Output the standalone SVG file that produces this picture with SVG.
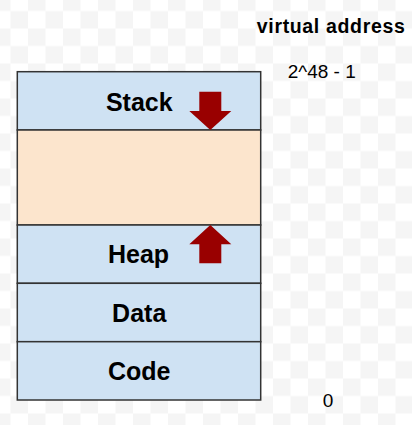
<svg xmlns="http://www.w3.org/2000/svg" width="412" height="425" viewBox="0 0 412 425">
<style>
.seg{stroke:#333333;stroke-width:1.5}
.blue{fill:#cfe2f3}
.orange{fill:#fce5cd}
.lbl{font-family:"Liberation Sans",Arial,sans-serif;font-weight:bold;font-size:25px;fill:#000;text-anchor:middle}
.addr{font-family:"Liberation Sans",Arial,sans-serif;font-size:19px;fill:#000;text-anchor:middle}
.arrow{fill:#990000}
</style>
<defs>
<pattern id="checker" x="-7" y="-6.5" width="35" height="35" patternUnits="userSpaceOnUse">
<rect width="35" height="35" fill="#ffffff"/>
<rect x="0" y="0" width="17.5" height="17.5" fill="#f5f5f5"/>
<rect x="17.5" y="17.5" width="17.5" height="17.5" fill="#f5f5f5"/>
</pattern>
<path id="downArrow" d="M199.3,91.7 H221.3 V111 H231.3 L210.3,130 L189.3,111 H199.3 Z"/>
</defs>
<rect width="412" height="425" fill="url(#checker)"/>
<g id="stack">
<rect class="seg blue" x="17.3" y="71.7" width="243.4" height="58.3"/>
<text class="lbl" x="139.3" y="110.7">Stack</text>
</g>
<g id="free">
<rect class="seg orange" x="17.3" y="130" width="243.4" height="95"/>
</g>
<g id="heap">
<rect class="seg blue" x="17.3" y="225" width="243.4" height="58.3"/>
<text class="lbl" x="138.5" y="263">Heap</text>
</g>
<g id="data">
<rect class="seg blue" x="17.3" y="283.3" width="243.4" height="58.4"/>
<text class="lbl" x="139.2" y="322.3">Data</text>
</g>
<g id="code">
<rect class="seg blue" x="17.3" y="341.7" width="243.4" height="58.3"/>
<text class="lbl" x="139.2" y="379.8">Code</text>
</g>
<g id="connectors">
<path class="arrow" d="M199.3,91.7 H221.3 V111 H231.3 L210.3,130 L189.3,111 H199.3 Z"/>
<path class="arrow" d="M199.3,263.3 H221.3 V244.3 H231.3 L210.3,225 L189.3,244.3 H199.3 Z"/>
</g>
<g id="labels">
<text x="330.8" y="33.3" font-family="'Liberation Sans',Arial,sans-serif" font-weight="bold" font-size="19.5" textLength="148" lengthAdjust="spacing" text-anchor="middle">virtual address</text>
<text class="addr" x="321.7" y="78.3">2^48 - 1</text>
<text class="addr" x="328" y="407.3" font-size="18">0</text>
</g>
</svg>
